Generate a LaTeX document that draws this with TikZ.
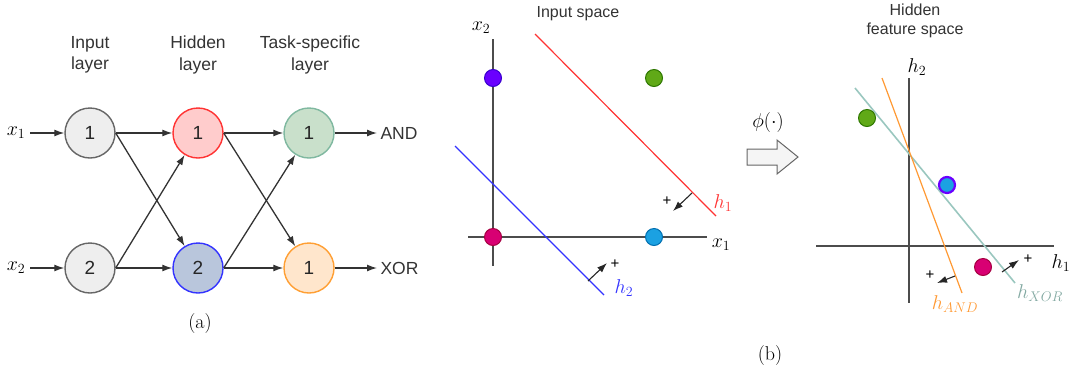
\RequirePackage{fix-cm}
\documentclass[tikz,border=0pt]{standalone}
\usepackage{fontspec}
\setsansfont{Liberation Sans}
\usetikzlibrary{arrows.meta}
\definecolor{ingray}{HTML}{EEEEEE}
\definecolor{inborder}{HTML}{666666}
\definecolor{redfill}{HTML}{FFCCCC}
\definecolor{redline}{HTML}{FF3333}
\definecolor{bluefill}{HTML}{B9C6DC}
\definecolor{blueline}{HTML}{3333FF}
\definecolor{greenfill}{HTML}{C9E0CB}
\definecolor{greenline}{HTML}{7FB8A0}
\definecolor{orangefill}{HTML}{FFE6CC}
\definecolor{orangeline}{HTML}{FF9F33}
\definecolor{dviolet}{HTML}{6A00FF}
\definecolor{dvioletb}{HTML}{3700CC}
\definecolor{dgreen}{HTML}{60A917}
\definecolor{dgreenb}{HTML}{2D7600}
\definecolor{dmagenta}{HTML}{D80073}
\definecolor{dmagentab}{HTML}{A50040}
\definecolor{dcyan}{HTML}{1BA1E2}
\definecolor{dcyanb}{HTML}{006EAF}
\definecolor{xorline}{HTML}{9AC7BF}
\definecolor{andline}{HTML}{FF9933}
\begin{document}
\begin{tikzpicture}[x=1pt,y=-1pt,
  sans/.style={font=\sffamily\fontsize{17.5}{21.5}\selectfont, align=center, text=black!80},
  title/.style={font=\sffamily\fontsize{16}{19}\selectfont, align=center, text=black!80},
  neuron/.style={circle, minimum size=50pt, inner sep=0pt, line width=1.4pt, font=\sffamily\fontsize{19}{22}\selectfont, text=black!85},
  conn/.style={-{Latex[length=10pt,width=7pt]}, line width=1.3pt, draw=black!80},
  ddot/.style={circle, minimum size=17pt, inner sep=0pt, line width=1pt},
  axisline/.style={line width=1.4pt, draw=black!70},
  normarrow/.style={-{Latex[length=10pt,width=7pt]}, line width=1.1pt, draw=black!85},
  mlab/.style={font=\fontsize{20}{23}\selectfont, inner sep=0pt},
  pluslab/.style={font=\sffamily\fontsize{15}{17}\selectfont, inner sep=0pt},
  caplabel/.style={font=\fontsize{20}{23}\selectfont, inner sep=0pt}
]
\useasboundingbox (0,0) rectangle (1070,368);

% ---------- panel (a) ----------
\node[sans] (hIn) at (90,55) {Input\\layer};
\node[sans] (hHid) at (198,55) {Hidden\\layer};
\node[sans] (hTask) at (310,55) {Task-specific\\layer};

\node[neuron, fill=ingray, draw=inborder] (in1) at (90,133) {1};
\node[neuron, fill=ingray, draw=inborder] (in2) at (90,268) {2};
\node[neuron, fill=redfill, draw=redline] (hd1) at (198,133) {1};
\node[neuron, fill=bluefill, draw=blueline] (hd2) at (198,268) {2};
\node[neuron, fill=greenfill, draw=greenline] (tk1) at (309,133) {1};
\node[neuron, fill=orangefill, draw=orangeline] (tk2) at (309,268) {1};

\node[mlab] (x1) at (16,133) {$x_1$};
\node[mlab] (x2) at (16,268) {$x_2$};
\node[sans, anchor=west] (and) at (377,133) {AND};
\node[sans, anchor=west] (xor) at (377,268) {XOR};

\draw[conn] ([xshift=5pt]x1.east) -- (in1);
\draw[conn] ([xshift=5pt]x2.east) -- (in2);
\draw[conn] (in1.east) -- (hd1);
\draw[conn] (in1.east) -- (hd2);
\draw[conn] (in2.east) -- (hd1);
\draw[conn] (in2.east) -- (hd2);
\draw[conn] (hd1.east) -- (tk1);
\draw[conn] (hd1.east) -- (tk2);
\draw[conn] (hd2.east) -- (tk1);
\draw[conn] (hd2.east) -- (tk2);
\draw[conn] (tk1) -- (and.west);
\draw[conn] (tk2) -- (xor.west);

\node[caplabel] (capa) at (200,323) {(a)};

% ---------- panel (b): input space ----------
\node[title] (tIn) at (578,14) {Input space};
\coordinate (ax2a) at (493,39);
\coordinate (ax2b) at (493,266);
\coordinate (ax1a) at (468,237);
\coordinate (ax1b) at (707,237);
\draw[axisline] (ax2a) -- (ax2b);
\draw[axisline] (ax1a) -- (ax1b);
\node[mlab] (lx2) at (481,28) {$x_2$};
\node[mlab] (lx1) at (721,245) {$x_1$};

\coordinate (r1) at (535,34);
\coordinate (r2) at (716,216);
\draw[redline, line width=1.2pt] (r1) -- (r2);
\coordinate (b1) at (455,146);
\coordinate (b2) at (604,295);
\draw[blueline, line width=1.2pt] (b1) -- (b2);

\node[ddot, fill=dviolet, draw=dvioletb] (p01) at (493,78) {};
\node[ddot, fill=dgreen, draw=dgreenb] (p11) at (654,78) {};
\node[ddot, fill=dmagenta, draw=dmagentab] (p00) at (493,237) {};
\node[ddot, fill=dcyan, draw=dcyanb] (p10) at (654,237) {};

\coordinate (n1a) at (692,193);
\coordinate (n1b) at (673,211);
\draw[normarrow] (n1a) -- (n1b);
\node[pluslab] (pl1) at (667,201) {+};
\node[mlab, text=redline] (lh1) at (723,203) {$h_1$};

\coordinate (n2a) at (588,281);
\coordinate (n2b) at (607,263);
\draw[normarrow] (n2a) -- (n2b);
\node[pluslab] (pl2) at (615,264) {+};
\node[mlab, text=blueline] (lh2) at (624,288) {$h_2$};

% ---------- transformation arrow ----------
\node[mlab] (phi) at (768,122) {$\phi(\cdot)$};
\draw[fill=black!4, draw=black!60, line width=1pt]
  (747,149) -- (777,149) -- (777,140) -- (798,157) -- (777,174) -- (777,165) -- (747,165) -- cycle;

% ---------- hidden feature space ----------
\node[title] (tHid) at (915,21) {Hidden\\feature space};
\coordinate (ay2a) at (909,78);
\coordinate (ay2b) at (909,303);
\coordinate (ay1a) at (816,246);
\coordinate (ay1b) at (1054,246);
\draw[axisline] (ay2a) -- (ay2b);
\draw[axisline] (ay1a) -- (ay1b);
\node[mlab] (lh2b) at (917,67) {$h_2$};
\node[mlab] (lh1b) at (1061,263) {$h_1$};

\coordinate (xo1) at (855,88);
\coordinate (xo2) at (1015,283);
\draw[xorline, line width=1.6pt] (xo1) -- (xo2);
\coordinate (an1) at (882,78);
\coordinate (an2) at (962,293);
\draw[andline, line width=1.2pt] (an1) -- (an2);

\node[ddot, fill=dgreen, draw=dgreenb] (q11) at (867,118) {};
\node[ddot, fill=dcyan, draw=dviolet, line width=2.2pt, minimum size=16pt] (q01) at (947,185) {};
\node[ddot, fill=dmagenta, draw=dmagentab] (q00) at (983,267) {};

\coordinate (na1) at (955,276);
\coordinate (na2) at (937,283);
\draw[normarrow] (na1) -- (na2);
\node[pluslab] (pl3) at (930,275) {+};
\node[mlab, text=andline] (lhand) at (955,304) {$h_{AND}$};

\coordinate (nx1) at (1002,272);
\coordinate (nx2) at (1019,260);
\draw[normarrow] (nx1) -- (nx2);
\node[pluslab] (pl4) at (1028,259) {+};
\node[mlab, text=xorline!85!black] (lhxor) at (1040,293) {$h_{XOR}$};

\node[caplabel] (capb) at (770,355) {(b)};
\end{tikzpicture}
\end{document}
